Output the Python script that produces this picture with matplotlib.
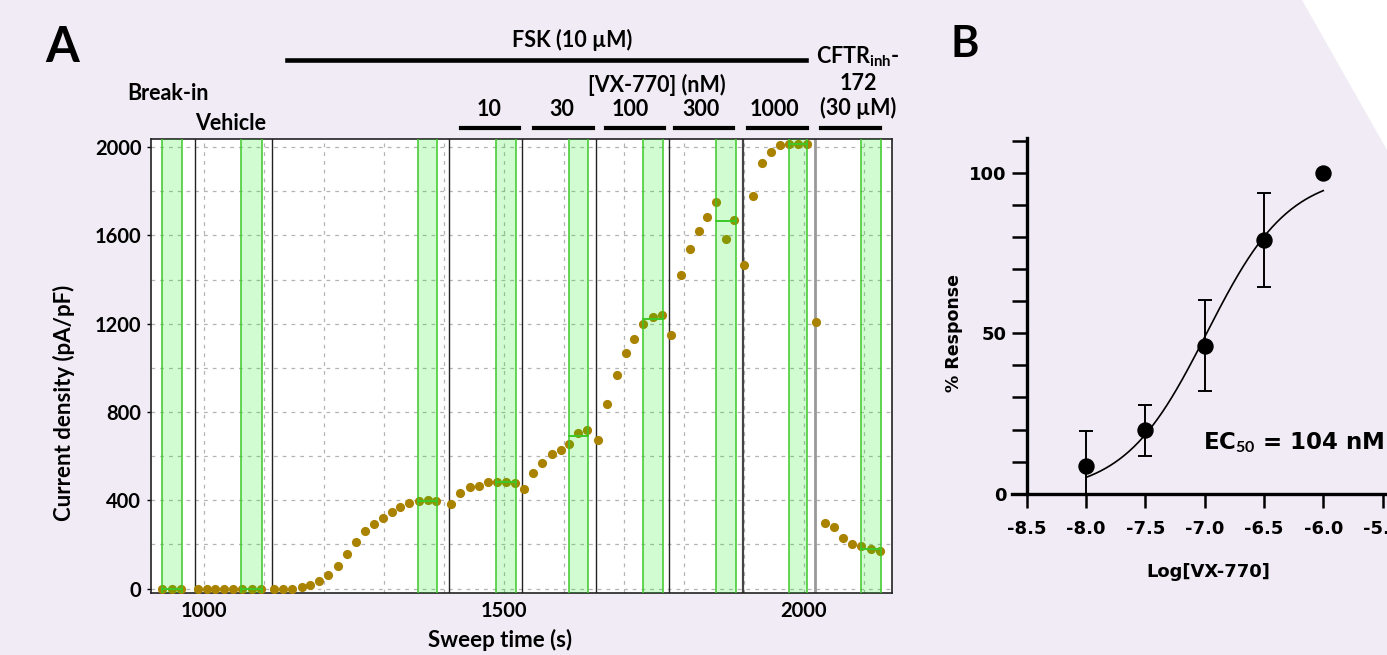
import numpy as np
import matplotlib
matplotlib.use("Agg")
import matplotlib.pyplot as plt
from matplotlib.lines import Line2D
from matplotlib.patches import Polygon
from matplotlib.ticker import MultipleLocator, FixedLocator

# ---- panel A: sweep-by-sweep current density ----
sweep_time = [
    930, 947, 962,
    990, 1005, 1019, 1034, 1049, 1064, 1080, 1095,
    1117, 1132, 1147, 1163, 1177, 1192, 1207, 1223, 1238, 1253,
    1268, 1283, 1298, 1313, 1327, 1342, 1358, 1373, 1387,
    1412, 1427, 1443, 1458, 1473, 1488, 1504, 1519,
    1534, 1549, 1564, 1580, 1595, 1609, 1624, 1638,
    1657, 1672, 1688, 1703, 1717, 1732, 1748, 1763,
    1779, 1795, 1810, 1825, 1839, 1854, 1870, 1884,
    1901, 1915, 1930, 1945, 1960, 1975, 1990, 2005,
    2021, 2036, 2051, 2066, 2081, 2096, 2112, 2127,
]
current_density = [
    0, 0, 0,
    0, 0, 0, 0, 0, 0, 0, 0,
    0, 0, 0, 5, 18, 33, 60, 101, 155, 211,
    259, 291, 320, 347, 368, 390, 397, 400, 399,
    383, 435, 459, 467, 484, 484, 484, 479,
    452, 523, 570, 610, 626, 657, 703, 718,
    674, 837, 969, 1069, 1132, 1200, 1229, 1239,
    1147, 1422, 1539, 1619, 1685, 1750, 1583, 1670,
    1466, 1778, 1930, 1977, 2009, 2015, 2015, 2013,
    1209, 296, 277, 230, 202, 193, 181, 169,
]
# solution exchanges (s)
exchange_times = [985, 1114, 1409, 1531, 1654, 1776, 1898, 2019]
# analysis windows (start, end) in s
windows = [(931, 964), (1062, 1097), (1357, 1389), (1487, 1520), (1609, 1640),
           (1732, 1765), (1854, 1887), (1976, 2006), (2096, 2129)]
dose_labels = ["10", "30", "100", "300", "1000"]

# ---- panel B: concentration response ----
log_conc = [-8.0, -7.5, -7.0, -6.5, -6.0]
pct_response = [8.5, 19.7, 46.1, 79.0, 100.0]
pct_err = [10.9, 7.8, 14.1, 14.6, 0.0]
LOG_EC50 = np.log10(104e-9)
HILL = 1.25

W, H = 1387, 655
BG = "#f0ebf4"
plt.rcParams["font.family"] = ["Lato", "DejaVu Sans"]
plt.rcParams["font.weight"] = "bold"
plt.rcParams["axes.labelweight"] = "bold"
plt.rcParams["mathtext.fontset"] = "custom"
plt.rcParams["mathtext.rm"] = "Lato:bold"
plt.rcParams["mathtext.bf"] = "Lato:bold"
plt.rcParams["mathtext.it"] = "Lato:bold"
plt.rcParams["mathtext.default"] = "bf"

fig = plt.figure(figsize=(W / 100, H / 100), dpi=100, facecolor=BG)


def fx(x):
    return x / W


def fy(y):
    return 1 - y / H


# white wedge in top right corner
fig.patches.append(Polygon([(fx(1302), fy(0)), (fx(1387), fy(0)), (fx(1387), fy(150))],
                           closed=True, transform=fig.transFigure,
                           facecolor="white", edgecolor="none", zorder=0))

# ================= Panel A =================
ax = fig.add_axes([fx(151), fy(593), (892 - 151) / W, (593 - 139) / H])
ax.set_facecolor("white")
ax.set_xlim(912, 2147)
ax.set_ylim(-20, 2037)
ax.xaxis.set_major_locator(FixedLocator([1000, 1500, 2000]))
ax.xaxis.set_minor_locator(MultipleLocator(100))
ax.yaxis.set_major_locator(MultipleLocator(400))
ax.yaxis.set_minor_locator(MultipleLocator(200))
ax.grid(which="both", color="#b4b4b4", linestyle=(0, (3, 4)), linewidth=0.9)
ax.set_axisbelow(True)
ax.tick_params(axis="x", which="both", length=0, pad=6, labelsize=14.5)
ax.tick_params(axis="y", which="major", length=3, width=1, pad=4, labelsize=14.5)
ax.tick_params(axis="y", which="minor", length=0)
for lab in ax.get_xticklabels() + ax.get_yticklabels():
    lab.set_fontweight("bold")
for s in ax.spines.values():
    s.set_color("#222222")
    s.set_linewidth(1.2)

for t in exchange_times:
    if t == 2019:
        ax.axvline(t, color="#999999", lw=2.0, zorder=2)
    elif t == 1898:
        ax.axvline(t, color="#444444", lw=1.6, zorder=2)
    else:
        ax.axvline(t, color="#222222", lw=1.0, zorder=2)

tt = np.array(sweep_time)
cd = np.array(current_density)
ax.plot(tt, cd, "o", color="#a98300", markersize=6.6, markeredgewidth=0, zorder=3)

for (a, b) in windows:
    ax.axvspan(a, b, facecolor=(0.0, 0.94, 0.0), alpha=0.18, edgecolor="none", zorder=4)
    ax.axvline(a, color="#3cc828", lw=1.1, zorder=5)
    ax.axvline(b, color="#3cc828", lw=1.1, zorder=5)
    inside = cd[(tt >= a) & (tt <= b)]
    ax.plot([a, b], [inside.mean()] * 2, color="#3cc828", lw=1.4, zorder=5)

ax.set_xlabel("Sweep time (s)", fontsize=16)
ax.xaxis.set_label_coords(0.471, -0.08)
ax.xaxis.label.set_va("top")
ax.set_ylabel("Current density (pA/pF)", fontsize=16)
ax.yaxis.set_label_coords(-0.1026, 0.4185)

# header annotations
fig.text(fx(62), fy(48), "A", fontsize=35, ha="center", va="center")
fig.text(fx(168), fy(93), "Break-in", fontsize=15.5, ha="center", va="center")
fig.text(fx(231), fy(124), "Vehicle", fontsize=15.5, ha="center", va="center")
fig.text(fx(572), fy(40), "FSK (10 µM)", fontsize=15.5, ha="center", va="center")
fig.lines.append(Line2D([fx(287), fx(806)], [fy(60), fy(60)], transform=fig.transFigure,
                        color="black", lw=3.3))
fig.text(fx(657), fy(85), "[VX-770] (nM)", fontsize=15.5, ha="center", va="center")
dose_x = [489, 562, 630, 701, 774]
dose_bars = [(461, 519), (534, 593), (606, 664), (675, 733), (748, 807), (821, 880)]
for lab, x in zip(dose_labels, dose_x):
    fig.text(fx(x), fy(110), lab, fontsize=15.5, ha="center", va="center")
for (a, b) in dose_bars:
    fig.lines.append(Line2D([fx(a), fx(b)], [fy(128), fy(128)], transform=fig.transFigure,
                            color="black", lw=3.0))
fig.text(fx(858), fy(57), "CFTR$_{inh}$-", fontsize=15.5, ha="center", va="center")
fig.text(fx(858), fy(83), "172", fontsize=15.5, ha="center", va="center")
fig.text(fx(858), fy(108), "(30 µM)", fontsize=15.5, ha="center", va="center")

# ================= Panel B =================
bx0, bx1 = 1011.8, 1394.4
by_top, by_bot = 138.4, 493.7
bx = fig.add_axes([fx(bx0), fy(by_bot), (bx1 - bx0) / W, (by_bot - by_top) / H])
bx.set_facecolor("none")
bx.set_xlim(-8.626, -5.4)
bx.set_ylim(0, 110.7)
for s in ("top", "right"):
    bx.spines[s].set_visible(False)
bx.spines["left"].set_position(("data", -8.5))
for s in ("left", "bottom"):
    bx.spines[s].set_linewidth(2.4)
bx.xaxis.set_major_locator(FixedLocator([-8.5, -8.0, -7.5, -7.0, -6.5, -6.0, -5.5]))
bx.set_xticklabels(["-8.5", "-8.0", "-7.5", "-7.0", "-6.5", "-6.0", "-5.5"])
bx.yaxis.set_major_locator(FixedLocator([0, 50, 100]))
bx.yaxis.set_minor_locator(MultipleLocator(10))
bx.tick_params(axis="x", length=9.9, width=1.8, pad=9, labelsize=13)
bx.tick_params(axis="y", which="both", length=10.8, width=1.8, pad=3.6, labelsize=13)
for lab in bx.get_xticklabels() + bx.get_yticklabels():
    lab.set_family(["DejaVu Sans"])
    lab.set_fontweight("bold")

xf = np.linspace(-8.0, -6.0, 200)
bx.plot(xf, 100 / (1 + 10 ** ((LOG_EC50 - xf) * HILL)), color="black", lw=1.2, zorder=2)
bx.errorbar(log_conc, pct_response, yerr=pct_err, fmt="o", color="black",
            markersize=10.8, elinewidth=1.4, capsize=5, capthick=1.4, zorder=3)

bx.set_xlabel("Log[VX-770]", fontsize=13, family=["DejaVu Sans"], fontweight="bold")
bx.xaxis.set_label_coords(0.513, -0.195)
bx.xaxis.label.set_va("top")
bx.set_ylabel("% Response", fontsize=12.5, family=["DejaVu Sans"], fontweight="bold")
bx.yaxis.set_label_coords(-0.1275, 0.452)
bx.text(-7.013, 16, "EC$_{50}$ = 104 nM", fontsize=16.5, family=["DejaVu Sans"],
        fontweight="bold", ha="left", va="center")

fig.text(fx(965), fy(44), "B", fontsize=31, ha="center", va="center")

fig.savefig("out.png", dpi=100, facecolor=BG)
